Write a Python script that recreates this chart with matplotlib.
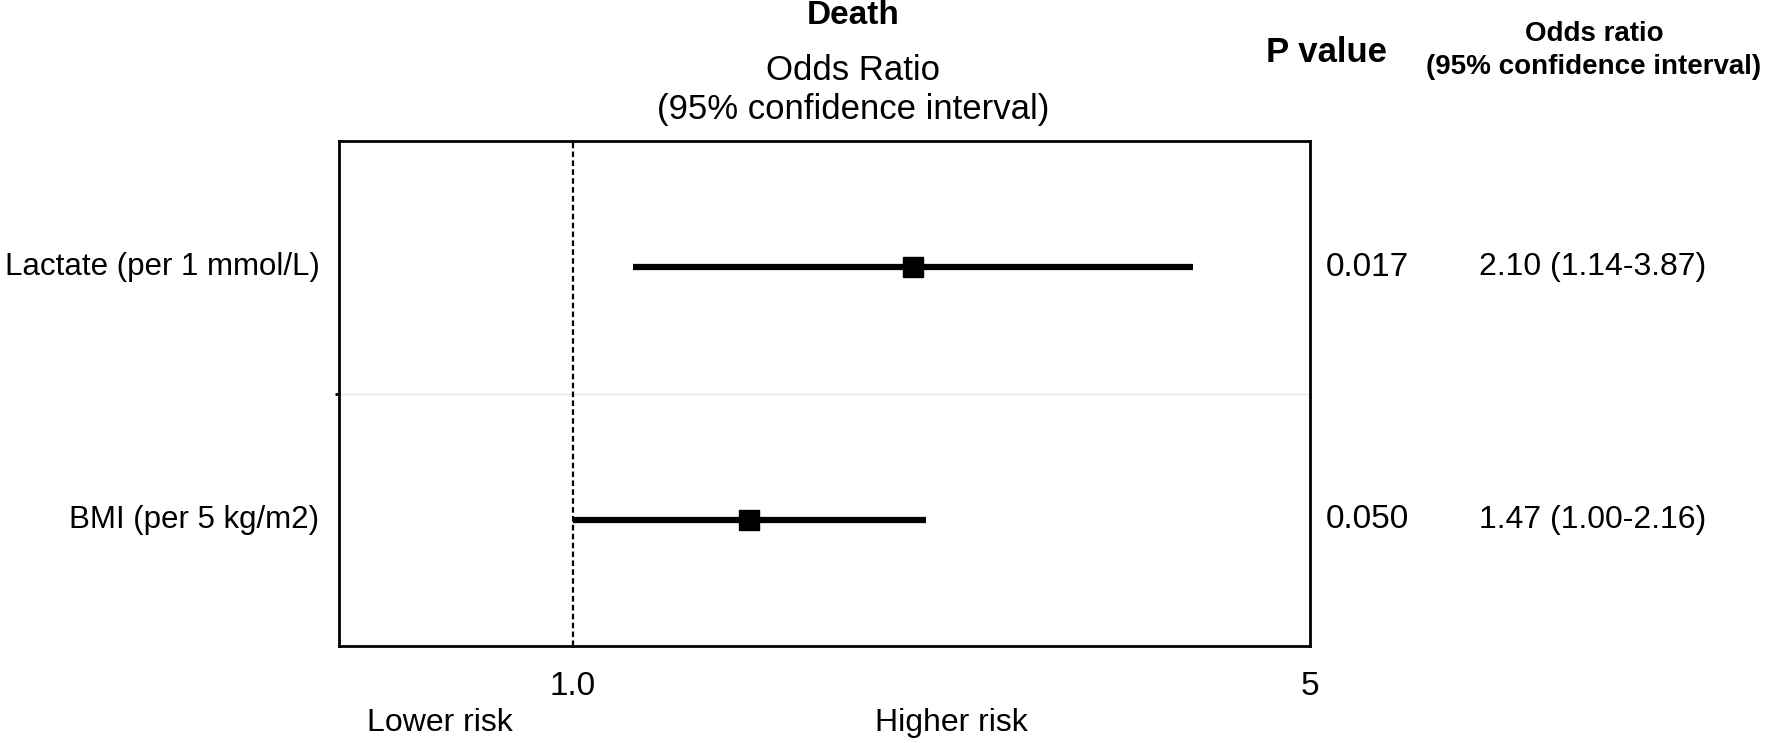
import matplotlib.pyplot as plt
import numpy as np
from matplotlib.transforms import offset_copy

plt.rcParams['font.family'] = ['Liberation Sans', 'DejaVu Sans']

# Forest plot data
labels = ['Lactate (per 1 mmol/L)', 'BMI (per 5 kg/m2)']
odds_ratio = [2.10, 1.47]
ci_low = [1.14, 1.00]
ci_high = [3.87, 2.16]
p_values = ['0.017', '0.050']
or_text = ['2.10 (1.14-3.87)', '1.47 (1.00-2.16)']
xticks = [1.0, 5]
xtick_labels = ['1.0', '5']

fig = plt.figure(figsize=(17.71, 7.43), dpi=100)
ax = fig.add_axes([0.1914, 0.1306, 0.5483, 0.6794])

ypos = np.arange(len(labels)) + 0.5
for y, o, lo, hi in zip(ypos, odds_ratio, ci_low, ci_high):
    ax.plot([lo, hi], [y, y], color='black', lw=4.5, solid_capstyle='butt', zorder=3)
    ax.plot(o, y, marker='s', color='black', ms=14, zorder=4)

ax.axvline(1.0, color='black', ls=(0, (2.5, 1.5)), lw=1.6, zorder=2)
ax.axhline(1.0, color='#e6e6e6', lw=1, zorder=1)

ax.set_xscale('log')
ax.set_xlim(0.6, 5)
ax.set_ylim(2, 0)
ax.set_xticks(xticks)
ax.set_xticklabels(xtick_labels, fontsize=24)
ax.xaxis.set_minor_locator(plt.NullLocator())
ax.tick_params(axis='x', length=0, pad=18)
ax.set_yticks([1.0])
ax.set_yticklabels([''])
ax.tick_params(axis='y', length=3, width=2)
for s in ax.spines.values():
    s.set_linewidth(2)

# row labels and right-hand columns
lab_tr = offset_copy(ax.get_yaxis_transform(), fig=fig, x=-14, units='points')
for y, lab, p, t in zip(ypos, labels, p_values, or_text):
    ax.text(0, y, lab, transform=lab_tr, ha='right', va='center', fontsize=22.5)
    yf = ax.transData.transform((1, y))[1] / fig.bbox.height
    fig.text(1367 / 1771, yf, p, ha='center', va='center', fontsize=24)
    fig.text(1593 / 1771, yf, t, ha='center', va='center', fontsize=23)

# headers
fig.text(853 / 1771, 1 - 15 / 743, 'Death', ha='center', va='center', fontsize=24, fontweight='bold')
fig.text(853 / 1771, 1 - 70 / 743, 'Odds Ratio', ha='center', va='center', fontsize=25)
fig.text(853 / 1771, 1 - 109 / 743, '(95% confidence interval)', ha='center', va='center', fontsize=25)
fig.text(1327 / 1771, 1 - 53 / 743, 'P value', ha='center', va='center', fontsize=25, fontweight='bold')
fig.text(1594 / 1771, 1 - 34 / 743, 'Odds ratio', ha='center', va='center', fontsize=20, fontweight='bold')
fig.text(1594 / 1771, 1 - 67 / 743, '(95% confidence interval)', ha='center', va='center', fontsize=20, fontweight='bold')

# risk direction labels
fig.text(440 / 1771, 1 - 723 / 743, 'Lower risk', ha='center', va='center', fontsize=23)
fig.text(951 / 1771, 1 - 723 / 743, 'Higher risk', ha='center', va='center', fontsize=23)

fig.savefig('out.png', dpi=100)
